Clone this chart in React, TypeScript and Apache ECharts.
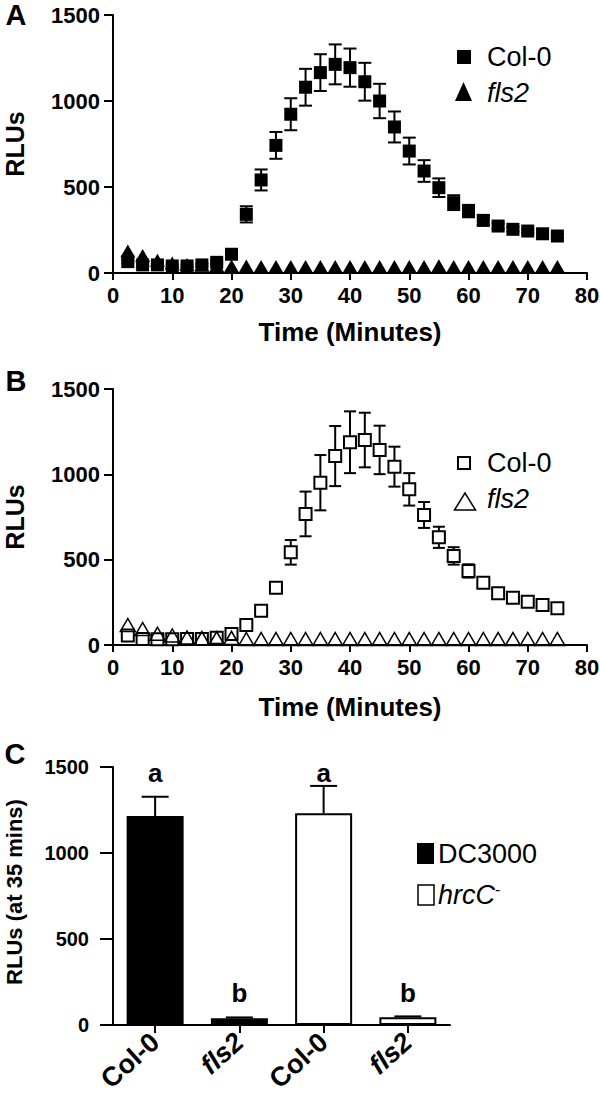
import React, { useEffect, useRef } from 'react';
import * as echarts from 'echarts';

// ---------- DATA ----------
const time = [2.5, 5, 7.5, 10, 12.5, 15, 17.5, 20, 22.5, 25, 27.5, 30, 32.5, 35, 37.5, 40, 42.5, 45, 47.5, 50, 52.5, 55, 57.5, 60, 62.5, 65, 67.5, 70, 72.5, 75];

// Panel A (DC3000)
const aCol0 = [66, 47, 47, 41, 41, 47, 62, 109, 341, 541, 742, 923, 1080, 1165, 1213, 1194, 1112, 1000, 849, 709, 593, 496, 409, 360, 306, 273, 254, 244, 228, 215];
const aCol0Err = [10, 8, 8, 8, 8, 8, 10, 12, 47, 61, 78, 93, 107, 107, 116, 111, 110, 100, 90, 78, 63, 54, 43, 36, 29, 15, 12, 10, 10, 10];
const aFls2 = [128, 102, 74, 58, 50, 45, 43, 40, 40, 38, 38, 38, 38, 38, 38, 38, 38, 38, 38, 38, 38, 42, 38, 38, 38, 38, 38, 38, 38, 38];

// Panel B (hrcC-)
const bCol0 = [55, 35, 33, 33, 35, 35, 43, 64, 117, 201, 336, 543, 768, 951, 1107, 1188, 1201, 1143, 1045, 912, 762, 631, 522, 434, 365, 303, 277, 254, 234, 215];
const bCol0Err = [8, 6, 6, 6, 6, 6, 8, 10, 12, 15, 25, 72, 131, 162, 176, 181, 160, 142, 117, 95, 76, 62, 51, 39, 29, 15, 10, 8, 8, 8];
const bFls2 = [117, 94, 66, 56, 44, 40, 40, 42, 35, 35, 35, 35, 35, 35, 35, 35, 35, 35, 35, 35, 35, 35, 35, 35, 35, 35, 35, 35, 35, 35];

// Panel C (at 35 mins)
const cCategories = ['Col-0', 'fls2', 'Col-0', 'fls2'];
const cDC3000 = [1215, 39, '-', '-'];
const cHrcC = ['-', '-', 1231, 45];
const cErr = [112, 5, 159, 5];
const cLetters = ['a', 'b', 'a', 'b'];
const cLetterY = [1465, 186, 1465, 186];

const xTicks = { min: 0, max: 80, interval: 10 };
const yTicks = { min: 0, max: 1500, interval: 500 };

const FONT = '"Liberation Sans", Arial, Helvetica, sans-serif';

function errRender(capW: number, upperOnly: boolean) {
  return (params: any, api: any) => {
    const x = api.value(0);
    const y = api.value(1);
    const e = api.value(2);
    const top = api.coord([x, y + e]);
    const bot = api.coord([x, upperOnly ? y : y - e]);
    const st = { stroke: '#000', lineWidth: 2 };
    const hw = capW / 2;
    const children: any[] = [
      { type: 'line', shape: { x1: top[0], y1: top[1], x2: bot[0], y2: bot[1] }, style: st },
      { type: 'line', shape: { x1: top[0] - hw, y1: top[1], x2: top[0] + hw, y2: top[1] }, style: st },
    ];
    if (!upperOnly) {
      children.push({ type: 'line', shape: { x1: bot[0] - hw, y1: bot[1], x2: bot[0] + hw, y2: bot[1] }, style: st });
    }
    return { type: 'group', children };
  };
}

const axisLineStyle = { color: '#000', width: 2 };
const plain = (v: number) => String(v);

function timeXAxis(gridIndex: number, nameGap: number) {
  return {
    gridIndex,
    type: 'value',
    ...xTicks,
    axisLine: { show: true, onZero: false, lineStyle: axisLineStyle },
    axisTick: { show: true, length: 7, lineStyle: { color: '#000', width: 2 } },
    splitLine: { show: false },
    axisLabel: { fontSize: 22, fontWeight: 'bold', color: '#000', margin: 11, fontFamily: FONT, formatter: plain },
    name: 'Time (Minutes)',
    nameLocation: 'middle',
    nameGap,
    nameTextStyle: { fontSize: 26, fontWeight: 'bold', color: '#000', fontFamily: FONT },
  };
}

function rluYAxis(gridIndex: number, name: string, opts: any) {
  return {
    gridIndex,
    type: 'value',
    ...yTicks,
    axisLine: { show: true, onZero: false, lineStyle: axisLineStyle },
    axisTick: { show: true, length: opts.tickLen, lineStyle: { color: '#000', width: 2 } },
    splitLine: { show: false },
    axisLabel: { fontSize: opts.labelSize, fontWeight: 'bold', color: '#000', margin: opts.labelMargin, fontFamily: FONT, formatter: plain },
    name,
    nameLocation: 'middle',
    nameGap: opts.nameGap,
    nameTextStyle: { fontSize: opts.nameSize, fontWeight: 'bold', color: '#000', fontFamily: FONT, padding: opts.namePad || 0 },
  };
}

export default function App() {
  const ref = useRef<HTMLDivElement>(null);

  useEffect(() => {
    if (!ref.current) return;
    const chart = echarts.init(ref.current, null, { renderer: 'svg' });

    const txt = (text: string, x: number, y: number, size: number, extra: any = {}) => ({
      type: 'text',
      x,
      y,
      style: {
        text,
        fill: '#000',
        font: `${extra.italic ? 'italic ' : ''}${extra.bold ? 'bold ' : ''}${size}px ${FONT}`,
        textAlign: extra.align || 'left',
        textVerticalAlign: 'middle',
      },
    });

    const option: any = {
      animation: false,
      backgroundColor: '#fff',
      textStyle: { fontFamily: FONT },
      grid: [
        { left: 113, top: 15, width: 474, height: 258, containLabel: false, outerBoundsMode: 'none' },
        { left: 113, top: 389, width: 474, height: 256, containLabel: false, outerBoundsMode: 'none' },
        { left: 113, top: 767, width: 337, height: 258, containLabel: false, outerBoundsMode: 'none' },
      ],
      xAxis: [
        timeXAxis(0, 46),
        timeXAxis(1, 49),
        {
          gridIndex: 2,
          type: 'category',
          data: cCategories,
          axisLine: { show: true, lineStyle: axisLineStyle },
          axisTick: { show: true, alignWithLabel: true, length: 8, lineStyle: { color: '#000', width: 2 } },
          axisLabel: {
            interval: 0,
            rotate: 42,
            margin: 13,
            color: '#000',
            formatter: (v: string) => (v === 'fls2' ? `{i|${v}}` : `{n|${v}}`),
            rich: {
              i: { fontSize: 27, fontWeight: 'bold', fontStyle: 'italic', color: '#000', fontFamily: FONT },
              n: { fontSize: 27, fontWeight: 'bold', color: '#000', fontFamily: FONT },
            },
          },
        },
      ],
      yAxis: [
        rluYAxis(0, 'RLUs', { tickLen: 9, labelSize: 22, labelMargin: 13, nameGap: 86, nameSize: 25 }),
        rluYAxis(1, 'RLUs', { tickLen: 9, labelSize: 22, labelMargin: 13, nameGap: 86, nameSize: 25 }),
        rluYAxis(2, 'RLUs (at 35 mins)', { tickLen: 13, labelSize: 20, labelMargin: 24, nameGap: 88, nameSize: 22, namePad: [0, 0, 0, 8] }),
      ],
      series: [
        // Panel A
        {
          type: 'custom', name: 'Col-0 err A', xAxisIndex: 0, yAxisIndex: 0, z: 1,
          renderItem: errRender(13, false),
          encode: { x: 0, y: 1 },
          data: time.map((t, i) => [t, aCol0[i], aCol0Err[i]]),
        },
        {
          type: 'scatter', name: 'fls2', xAxisIndex: 0, yAxisIndex: 0, z: 2,
          symbol: 'triangle', symbolSize: [15, 13],
          itemStyle: { color: '#000', opacity: 1 },
          data: time.map((t, i) => [t, aFls2[i]]),
        },
        {
          type: 'scatter', name: 'Col-0', xAxisIndex: 0, yAxisIndex: 0, z: 3,
          symbol: 'rect', symbolSize: 13,
          itemStyle: { color: '#000', opacity: 1 },
          data: time.map((t, i) => [t, aCol0[i]]),
        },
        // Panel B
        {
          type: 'custom', name: 'Col-0 err B', xAxisIndex: 1, yAxisIndex: 1, z: 1,
          renderItem: errRender(12, false),
          encode: { x: 0, y: 1 },
          data: time.map((t, i) => [t, bCol0[i], bCol0Err[i]]),
        },
        {
          type: 'scatter', name: 'Col-0 (hrcC)', xAxisIndex: 1, yAxisIndex: 1, z: 2,
          symbol: 'rect', symbolSize: 12,
          itemStyle: { color: '#fff', borderColor: '#000', borderWidth: 2, opacity: 1 },
          data: time.map((t, i) => [t, bCol0[i]]),
        },
        {
          type: 'scatter', name: 'fls2 (hrcC)', xAxisIndex: 1, yAxisIndex: 1, z: 3,
          symbol: 'triangle', symbolSize: [15, 13],
          itemStyle: { color: 'rgba(255,255,255,0)', borderColor: '#000', borderWidth: 1.5, opacity: 1 },
          data: time.map((t, i) => [t, bFls2[i]]),
        },
        // Panel C
        {
          type: 'bar', name: 'DC3000', xAxisIndex: 2, yAxisIndex: 2, z: 2,
          barWidth: 57, barGap: '-100%',
          itemStyle: { color: '#000', borderColor: '#000', borderWidth: 2 },
          data: cDC3000,
        },
        {
          type: 'bar', name: 'hrcC-', xAxisIndex: 2, yAxisIndex: 2, z: 2,
          barWidth: 57, barGap: '-100%',
          itemStyle: { color: '#fff', borderColor: '#000', borderWidth: 2 },
          data: cHrcC,
        },
        {
          type: 'custom', name: 'C err', xAxisIndex: 2, yAxisIndex: 2, z: 3,
          renderItem: errRender(27, true),
          encode: { x: 0, y: 1 },
          data: cCategories.map((c, i) => [i, cDC3000[i] === '-' ? cHrcC[i] : cDC3000[i], cErr[i]]),
        },
        {
          type: 'scatter', name: 'letters', xAxisIndex: 2, yAxisIndex: 2, z: 4,
          symbolSize: 1,
          itemStyle: { color: 'rgba(0,0,0,0)', opacity: 1 },
          label: {
            show: true, position: 'inside', color: '#000', fontSize: 26, fontWeight: 'bold', fontFamily: FONT,
            formatter: (p: any) => cLetters[p.dataIndex],
          },
          data: cCategories.map((c, i) => [i, cLetterY[i]]),
        },
      ],
      graphic: [
        txt('A', 16, 15, 29, { bold: true, align: 'center' }),
        txt('B', 16, 381, 29, { bold: true, align: 'center' }),
        txt('C', 15, 754, 29, { bold: true, align: 'center' }),
        // Legend A
        { type: 'rect', shape: { x: 457, y: 50, width: 14, height: 14 }, style: { fill: '#000' } },
        txt('Col-0', 487, 57, 27),
        { type: 'polygon', shape: { points: [[463.5, 82], [455, 101], [472, 101]] }, style: { fill: '#000' } },
        txt('fls2', 487, 93, 27, { italic: true }),
        // Legend B
        { type: 'rect', shape: { x: 458, y: 457, width: 12, height: 12 }, style: { fill: '#fff', stroke: '#000', lineWidth: 2 } },
        txt('Col-0', 487, 463, 27),
        { type: 'polygon', shape: { points: [[465, 493], [454.5, 510], [475.5, 510]] }, style: { fill: '#fff', stroke: '#000', lineWidth: 1.5 } },
        txt('fls2', 487, 499, 27, { italic: true }),
        // Legend C
        { type: 'rect', shape: { x: 417, y: 843, width: 17, height: 21 }, style: { fill: '#000' } },
        txt('DC3000', 438, 854, 27),
        { type: 'rect', shape: { x: 418, y: 885, width: 16, height: 20 }, style: { fill: '#fff', stroke: '#000', lineWidth: 1.5 } },
        {
          type: 'text', x: 438, y: 895,
          style: {
            text: '{i|hrcC}{s|-}',
            rich: {
              i: { font: `italic 27px ${FONT}`, fill: '#000' },
              s: { font: `16px ${FONT}`, fill: '#000', verticalAlign: 'top', padding: [0, 0, 12, 0] },
            },
            textVerticalAlign: 'middle',
          },
        },
      ],
    };

    chart.setOption(option);
    return () => chart.dispose();
  }, []);

  return <div ref={ref} style={{ position: 'absolute', left: 0, top: 0, width: 600, height: 1096 }} />;
}
